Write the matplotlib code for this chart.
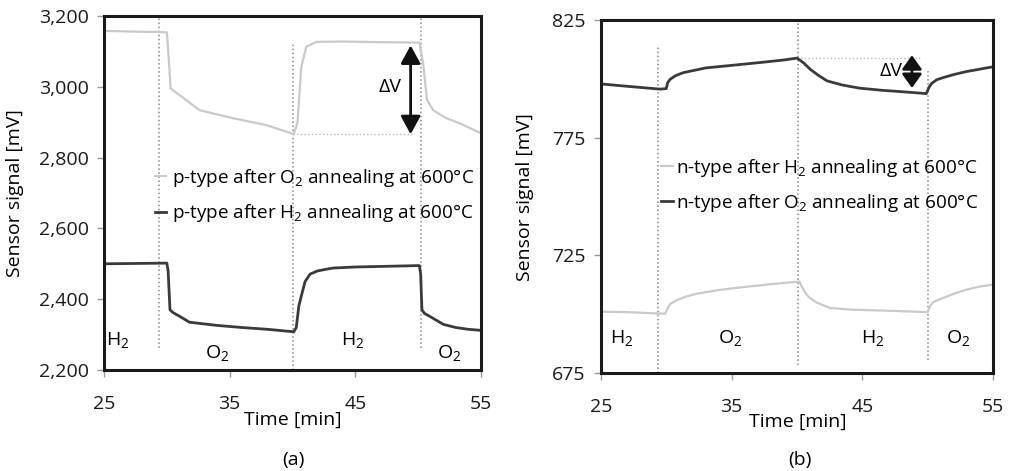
import matplotlib
matplotlib.use("Agg")
import matplotlib.pyplot as plt

plt.rcParams['font.family'] = ['Open Sans', 'DejaVu Sans']
plt.rcParams['mathtext.default'] = 'regular'

# ---- data ----
# (a) p-type sensors
t_a_o2 = [25, 30.0, 30.15, 30.3, 31.0, 32.6, 35.3, 37.9, 39.8, 40.1, 40.4, 40.7, 41.1,
          41.9, 44, 47, 50.1, 50.4, 50.7, 51.2, 52.2, 53.3, 54.2, 55]
v_a_o2 = [3158, 3154, 3080, 2995, 2977, 2934, 2911, 2892, 2870, 2866, 2900, 3057, 3113,
          3127, 3128, 3126, 3125, 3066, 2963, 2934, 2912, 2897, 2882, 2869]

t_a_h2 = [25, 30.0, 30.1, 30.25, 30.5, 31.0, 31.8, 34, 36, 38, 40.1, 40.3, 40.5, 40.7,
          41.0, 41.4, 42.0, 43.2, 45, 47.5, 50.1, 50.2, 50.3, 50.5, 51.0, 52.0, 53, 54, 55]
v_a_h2 = [2500, 2502, 2480, 2370, 2362, 2352, 2335, 2326, 2320, 2315, 2308, 2320, 2380, 2409,
          2450, 2471, 2480, 2488, 2491, 2493, 2495, 2470, 2370, 2360, 2350, 2329, 2320, 2315, 2312]

# (b) n-type sensors
t_b_o2 = [25, 27, 29.5, 30.0, 30.1, 30.3, 30.7, 31.3, 33, 35.9, 37.5, 39, 40.0, 40.5, 41,
          41.6, 42.3, 43.5, 44.8, 46.5, 48, 49.9, 50.1, 50.3, 50.7, 51.2, 52, 53, 54, 55]
v_b_o2 = [798, 797, 795.8, 796, 798.5, 800, 801.5, 802.8, 804.8, 806.4, 807.3, 808.2, 809, 807, 804.3,
          801.8, 799.3, 797.5, 796.2, 795.3, 794.7, 793.9, 796.5, 798.2, 799.8, 800.7, 802, 803.3, 804.3, 805.3]

t_b_h2 = [25, 27, 29.9, 30.1, 30.3, 30.8, 31.5, 32.3, 34, 35.8, 38, 40.2, 40.3, 40.6, 40.9,
          41.5, 42.5, 44, 46.3, 48, 50.0, 50.2, 50.4, 51, 52, 53, 54, 55]
v_b_h2 = [701.1, 700.9, 700.2, 702.5, 704.4, 706, 707.5, 708.7, 710.3, 711.5, 712.8, 713.9, 712.5, 709.5, 707.3,
          705, 702.7, 702, 701.6, 701.3, 700.9, 703.5, 705.1, 706.5, 708.7, 710.5, 711.8, 712.6]

gas_labels = ['H$_2$', 'O$_2$', 'H$_2$', 'O$_2$']
xticks = [25, 35, 45, 55]
yticks_a = [2200, 2400, 2600, 2800, 3000, 3200]
yticks_b = [675, 725, 775, 825]

light = '#c9c9c9'
dark = '#3a3a3a'
fs = 14
lfs = 13.6

fig = plt.figure(figsize=(10.09, 4.71), dpi=100)
ax1 = fig.add_axes([0.1031, 0.2144, 0.3736, 0.7516])
ax2 = fig.add_axes([0.5956, 0.2081, 0.3885, 0.7484])

for ax in (ax1, ax2):
    ax.set_xlim(25, 55)
    ax.set_xticks(xticks)
    for s in ax.spines.values():
        s.set_linewidth(2.2)
        s.set_color('#1a1a1a')
    ax.tick_params(axis='both', direction='out', length=5, width=1, color='#999999',
                   labelsize=fs, colors='#1a1a1a')
    ax.tick_params(axis='x', pad=13)
    ax.tick_params(axis='y', pad=6)

# ---- (a) ----
ax1.set_ylim(2200, 3200)
ax1.set_yticks(yticks_a)
ax1.set_yticklabels([f'{v:,}' for v in yticks_a])
ax1.vlines(29.4, 2262, 3200, colors='#888888', linestyles=':', lw=1.1)
ax1.vlines(40.0, 2200, 3124, colors='#888888', linestyles=':', lw=1.1)
ax1.vlines(50.2, 2262, 3200, colors='#888888', linestyles=':', lw=1.1)
ax1.hlines(2866, 40.0, 49.6, colors='#bbbbbb', linestyles=':', lw=1)
ax1.plot(t_a_o2, v_a_o2, color=light, lw=1.6,
         label='p-type after O$_2$ annealing at 600°C')
ax1.plot(t_a_h2, v_a_h2, color=dark, lw=2,
         label='p-type after H$_2$ annealing at 600°C')
ax1.annotate('', xy=(49.4, 2866), xytext=(49.4, 3117),
             arrowprops=dict(arrowstyle='<|-|>,head_length=0.55,head_width=0.3',
                             color='#111111', lw=2, shrinkA=0, shrinkB=0, mutation_scale=20))
ax1.text(47.8, 3000, 'ΔV', fontsize=fs, ha='center', va='center')
for x, y, lab in zip([26.1, 34.0, 44.8, 52.5], [2285, 2248, 2285, 2248], gas_labels):
    ax1.text(x, y, lab, fontsize=fs, ha='center', va='center')
ax1.legend(loc='upper left', bbox_to_anchor=(0.11, 0.6), frameon=False, fontsize=lfs,
           handlelength=0.6, handletextpad=0.3, labelspacing=0.7, borderpad=0)
ax1.set_ylabel('Sensor signal [mV]', fontsize=fs, va='center')
ax1.yaxis.set_label_coords(-0.236, 0.5)
ax1.set_xlabel('Time [min]', fontsize=fs, va='center')
ax1.xaxis.set_label_coords(0.5, -0.141)

# ---- (b) ----
ax2.set_ylim(675, 825)
ax2.set_yticks(yticks_b)
ax2.vlines(29.35, 675, 814.6, colors='#888888', linestyles=':', lw=1.1)
ax2.vlines(40.05, 678.4, 825, colors='#888888', linestyles=':', lw=1.1)
ax2.vlines(50.05, 680.5, 803.3, colors='#888888', linestyles=':', lw=1.1)
ax2.hlines(809.2, 40.0, 49.6, colors='#bbbbbb', linestyles=':', lw=1)
ax2.plot(t_b_h2, v_b_h2, color=light, lw=1.6,
         label='n-type after H$_2$ annealing at 600°C')
ax2.plot(t_b_o2, v_b_o2, color=dark, lw=2,
         label='n-type after O$_2$ annealing at 600°C')
ax2.annotate('', xy=(48.8, 796.3), xytext=(48.8, 810.2),
             arrowprops=dict(arrowstyle='<|-|>,head_length=0.42,head_width=0.3',
                             color='#111111', lw=2, shrinkA=0, shrinkB=0, mutation_scale=20))
ax2.text(47.2, 803.6, 'ΔV', fontsize=fs, ha='center', va='center')
for x, y, lab in zip([26.6, 34.9, 45.8, 52.3], [690, 690, 690, 690], gas_labels):
    ax2.text(x, y, lab, fontsize=fs, ha='center', va='center')
ax2.legend(loc='upper left', bbox_to_anchor=(0.13, 0.64), frameon=False, fontsize=lfs,
           handlelength=0.6, handletextpad=0.2, labelspacing=0.7, borderpad=0)
ax2.set_ylabel('Sensor signal [mV]', fontsize=fs, va='center')
ax2.yaxis.set_label_coords(-0.194, 0.5)
ax2.set_xlabel('Time [min]', fontsize=fs, va='center')
ax2.xaxis.set_label_coords(0.503, -0.138)

fig.text(293 / 1009, 1 - 460 / 471, '(a)', fontsize=fs, ha='center', va='center')
fig.text(800 / 1009, 1 - 460 / 471, '(b)', fontsize=fs, ha='center', va='center')

fig.savefig('out.png', dpi=100)
